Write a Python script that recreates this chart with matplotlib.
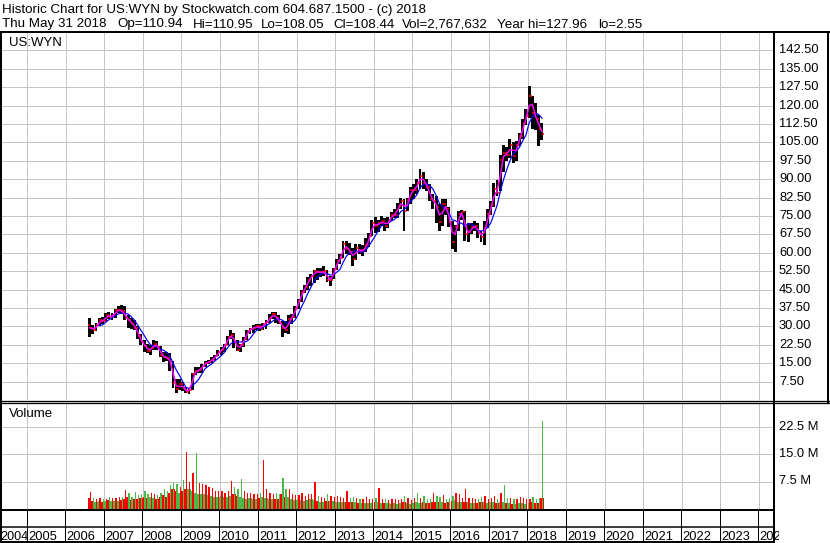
import numpy as np
import pandas as pd
import matplotlib
matplotlib.use("Agg")
import matplotlib.pyplot as plt
from matplotlib.lines import Line2D
import matplotlib.transforms as mtransforms

plt.rcParams['font.family'] = ['Liberation Sans', 'DejaVu Sans']

# ---------------- data (monthly, Aug 2006 .. May 2018) ----------------
first_year, first_month = 2006, 8

closes = [
    29.5, 28.5, 30.5, 32.5, 32.0,
    34.5, 34.0, 34.2, 36.5, 36.5, 36.3, 33.5, 32.5, 31.0, 29.5, 26.0, 23.5,
    22.0, 20.0, 21.0, 23.0, 21.5, 18.5, 17.5, 17.0, 15.5, 7.0, 4.5, 6.5,
    4.8, 3.3, 4.2, 10.5, 12.0, 12.1, 14.0, 15.2, 15.5, 16.5, 18.0, 19.5,
    20.5, 22.5, 25.5, 26.5, 23.5, 20.5, 22.5, 25.0, 28.0, 29.0, 29.5, 30.0,
    29.0, 31.0, 31.8, 33.5, 35.0, 33.5, 31.5, 29.5, 28.5, 33.0, 34.0, 37.5,
    40.5, 44.0, 46.0, 49.0, 50.5, 52.5, 52.0, 52.0, 52.5, 49.0, 49.0, 53.2,
    56.5, 58.0, 63.5, 61.5, 60.5, 57.5, 62.0, 60.5, 61.0, 63.0, 67.0, 72.0,
    71.0, 72.0, 73.0, 71.0, 73.0, 75.5, 75.5, 79.0, 81.0, 77.0, 81.5, 85.5,
    85.5, 88.5, 91.5, 88.5, 87.0, 82.0, 81.0, 78.5, 72.5, 80.0, 78.0, 72.5,
    64.5, 70.5, 76.0, 76.5, 67.5, 68.5, 70.5, 71.0, 68.0, 66.5, 70.0, 76.0,
    79.5, 86.0, 84.5, 98.0, 100.5, 100.0, 104.0, 99.5, 104.0, 107.5, 113.0, 115.8,
    124.0, 117.0, 114.5, 110.5, 108.44,
]
highs = [
    33.5, 30.5, 31.5, 33.5, 34.0,
    35.5, 36.0, 35.5, 37.0, 38.5, 38.8, 38.5, 34.5, 33.5, 32.5, 30.0, 27.0,
    24.5, 23.0, 22.5, 24.5, 24.0, 22.0, 19.5, 19.5, 19.0, 16.0, 8.5, 8.5,
    7.5, 5.5, 5.0, 11.0, 13.5, 13.5, 14.5, 16.0, 16.5, 17.5, 18.5, 20.5,
    21.5, 23.0, 26.0, 28.5, 27.5, 24.5, 23.0, 25.5, 28.5, 29.5, 30.5, 31.0,
    31.0, 31.5, 32.5, 35.0, 36.0, 36.0, 34.5, 32.0, 32.0, 34.5, 35.0, 38.5,
    41.0, 45.0, 47.0, 50.0, 51.5, 53.0, 54.0, 54.0, 54.5, 53.0, 50.5, 54.0,
    57.5, 59.5, 65.0, 65.0, 64.0, 62.0, 63.5, 63.5, 63.0, 66.0, 68.0, 73.5,
    74.5, 73.5, 75.0, 74.0, 74.5, 76.5, 78.0, 80.5, 82.5, 82.0, 82.5, 87.0,
    88.0, 90.0, 94.0, 93.0, 90.0, 88.0, 84.0, 83.0, 80.0, 82.0, 82.0, 78.5,
    73.0, 71.5, 77.0, 77.5, 77.0, 72.0, 72.0, 73.0, 72.0, 69.0, 73.0, 78.0,
    81.0, 88.5, 89.5, 100.0, 104.0, 103.0, 106.5, 105.0, 105.5, 109.0, 114.5, 118.5,
    127.96, 124.0, 121.0, 116.0, 113.0,
]
lows = [
    25.5, 27.0, 28.0, 30.0, 31.0,
    32.0, 33.0, 32.5, 33.5, 35.5, 35.0, 32.5, 29.5, 29.0, 28.5, 25.0, 22.5,
    19.5, 19.0, 18.5, 20.5, 20.5, 17.5, 15.5, 16.0, 12.0, 5.0, 3.0, 4.0,
    3.8, 2.8, 2.55, 4.0, 10.0, 11.2, 11.0, 13.5, 14.5, 15.0, 16.5, 18.0,
    18.5, 19.5, 22.5, 25.0, 21.0, 20.0, 19.5, 21.5, 24.5, 27.0, 27.5, 28.5,
    28.0, 28.5, 29.0, 31.5, 33.0, 31.5, 31.0, 25.5, 27.5, 27.0, 31.0, 33.5,
    37.0, 40.0, 43.5, 45.0, 46.5, 47.5, 49.0, 50.0, 50.5, 48.0, 46.5, 49.5,
    53.0, 55.5, 58.0, 59.5, 59.0, 54.5, 57.0, 59.5, 58.5, 60.5, 62.5, 67.0,
    68.0, 68.5, 71.0, 69.0, 70.0, 73.0, 74.0, 74.0, 78.0, 69.0, 77.0, 80.0,
    82.0, 84.0, 86.0, 86.0, 85.0, 81.0, 78.0, 72.0, 69.0, 71.0, 75.5, 70.5,
    61.5, 60.5, 69.0, 73.5, 65.0, 64.5, 67.5, 69.0, 66.0, 64.5, 63.0, 70.0,
    75.5, 78.5, 83.0, 85.0, 93.0, 97.5, 98.5, 96.5, 97.5, 103.5, 106.5, 112.0,
    115.0, 110.5, 110.0, 103.5, 106.0,
]
# volume in millions: typical daily level and largest spike in each month
vol_base = [
    3.0, 2.2, 2.0, 2.2, 2.0,
    2.2, 2.4, 2.3, 2.2, 2.3, 2.4, 2.8, 3.2, 2.5, 2.6, 2.8, 2.9,
    3.4, 3.0, 3.2, 3.0, 2.8, 3.2, 3.8, 3.4, 4.5, 5.5, 5.0, 4.5,
    5.0, 5.5, 5.5, 5.0, 4.5, 4.0, 4.2, 4.0, 3.8, 3.5, 3.2, 3.4,
    3.5, 3.4, 3.2, 3.5, 4.0, 3.6, 3.2, 3.0, 2.8, 3.0, 2.8, 2.6,
    3.0, 3.4, 3.0, 2.8, 2.6, 2.8, 2.8, 4.0, 3.4, 3.2, 2.6, 2.5,
    2.6, 2.4, 2.3, 2.4, 2.6, 2.4, 2.2, 2.0, 2.0, 2.2, 2.2, 2.1,
    2.0, 2.0, 1.9, 2.0, 1.8, 1.9, 1.8, 1.7, 1.6, 1.7, 1.6, 1.6,
    1.8, 1.9, 1.7, 1.6, 1.6, 1.5, 1.6, 1.5, 1.6, 1.8, 1.6, 1.5,
    1.7, 1.8, 1.7, 1.8, 1.7, 1.6, 1.8, 1.9, 2.0, 2.0, 1.7, 1.8,
    2.2, 2.4, 2.0, 1.9, 2.0, 1.8, 1.7, 1.6, 1.7, 1.8, 2.0, 1.7,
    1.8, 2.0, 1.7, 2.0, 1.8, 1.6, 1.6, 1.5, 1.5, 1.6, 1.6, 1.5,
    1.6, 1.8, 1.6, 1.7, 2.9,
]
vol_peak = [
    4.7, 3.0, 2.8, 3.0, 2.6,
    2.8, 3.2, 2.9, 3.0, 3.2, 3.2, 5.2, 4.5, 3.4, 4.7, 3.8, 4.0,
    4.8, 4.0, 4.3, 4.0, 3.8, 4.5, 5.5, 4.8, 6.6, 7.0, 6.8, 6.0,
    8.0, 15.5, 7.5, 9.8, 15.2, 7.0, 6.8, 6.5, 6.0, 5.8, 5.0, 4.8,
    5.0, 4.5, 5.0, 7.6, 6.0, 5.5, 8.2, 4.8, 4.5, 4.5, 4.2, 4.0,
    4.5, 13.3, 5.5, 4.5, 4.0, 4.5, 4.2, 8.4, 5.5, 5.5, 4.0, 3.8,
    3.8, 4.5, 3.6, 4.0, 4.0, 7.3, 3.5, 3.2, 3.0, 4.0, 3.5, 3.2,
    3.5, 3.2, 3.0, 4.8, 3.0, 3.4, 3.0, 2.8, 2.8, 3.2, 2.8, 2.6,
    3.0, 5.7, 2.8, 2.6, 2.5, 2.6, 2.8, 2.5, 2.8, 3.5, 3.0, 2.5,
    3.0, 4.3, 3.0, 3.5, 2.8, 2.7, 4.3, 3.5, 3.2, 3.8, 2.8, 3.0,
    3.5, 4.5, 4.0, 3.0, 5.5, 3.0, 3.0, 2.6, 2.8, 3.2, 3.5, 2.8,
    3.0, 3.5, 2.8, 4.3, 6.5, 3.0, 3.0, 2.8, 2.6, 3.2, 3.0, 2.8,
    2.8, 3.2, 2.7, 3.0, 24.0,
]
# colour of the notable spikes ('r' down day, 'g' up day)
spike_colors = {(2006, 8): 'r', (2007, 7): 'r', (2008, 10): 'g', (2009, 2): 'r',
                (2009, 4): 'r', (2009, 5): 'g', (2010, 4): 'r', (2010, 7): 'g',
                (2011, 2): 'r', (2011, 8): 'g', (2012, 6): 'r', (2013, 4): 'r',
                (2014, 2): 'r', (2015, 2): 'g', (2015, 7): 'r', (2016, 5): 'r',
                (2017, 5): 'g', (2018, 5): 'g'}

price_ticks = np.arange(7.5, 143, 7.5)
vol_ticks = [7.5, 15.0, 22.5]
years = list(range(2004, 2025))

header1 = "Historic Chart for US:WYN by Stockwatch.com 604.687.1500 - (c) 2018"
header2 = ["Thu May 31 2018", "Op=110.94", "Hi=110.95", "Lo=108.05", "Cl=108.44",
           "Vol=2,767,632", "Year hi=127.96", "lo=2.55"]
header2_px = [2, 117, 193, 261, 333, 402, 497, 598]

# ---------------- derived ----------------
n = len(closes)
ym = [(first_year + (first_month - 1 + i) // 12, (first_month - 1 + i) % 12 + 1) for i in range(n)]
xm = np.array([y + (m - 0.5) / 12 for y, m in ym])
C = np.array(closes); Hh = np.array(highs); Ll = np.array(lows)
O = np.concatenate([[C[0] + 1.0], C[:-1]])
up = C >= O
ma_fast = pd.Series(C).rolling(2, min_periods=1).mean()
ma_slow = pd.Series(C).rolling(5, min_periods=4).mean()

GREEN, RED = '#4db848', '#ff0000'
GRID = '#c4c4c4'

# ---------------- figure ----------------
W, H = 830, 543
fig = plt.figure(figsize=(W / 100, H / 100), dpi=100)
fig.patch.set_facecolor('white')

def rect(x0, y0, x1, y1):
    return [x0 / W, 1 - y1 / H, (x1 - x0) / W, (y1 - y0) / H]

X0, PPY = 27.0, 38.5   # pixel of 2005.0, pixels per year
def px2yr(px):
    return 2005 + (px - X0) / PPY

PX = 0.72  # one pixel in points

def style_axes(a):
    for s in a.spines.values():
        s.set_visible(False)
    a.set_xticks([]); a.set_yticks([])
    a.set_facecolor('white')

def grid_lines(a, xs, ys, color, lw):
    for xv in xs:
        a.axvline(xv, color=color, lw=lw, zorder=0.5)
    for yv in ys:
        a.axhline(yv, color=color, lw=lw, zorder=0.5)

# main price panel
ax = fig.add_axes(rect(2, 32, 774, 400))
style_axes(ax)
ax.set_xlim(px2yr(2), px2yr(774))
ax.set_ylim(0, 150)
grid_lines(ax, years[1:], price_ticks, GRID, PX * 1.0)

mw = 1 / 12
ax.bar(xm, Hh - Ll, bottom=Ll, width=mw * 0.9, color='black', linewidth=0, zorder=2)
ax.hlines(C, xm, xm + mw * 0.5, color=RED, lw=PX * 1.5, zorder=3)
ax.hlines(O, xm - mw * 0.5, xm, color=RED, lw=PX * 1.5, zorder=3)
ax.plot(xm, ma_slow, color='#0000ff', lw=PX * 1.2, zorder=4)
ax.plot(xm, ma_fast, color='#ff00ff', lw=PX * 1.5, zorder=5)

tr = mtransforms.blended_transform_factory(ax.transAxes, ax.transData)
for v in price_ticks:
    ax.text((779 - 2) / 772, v, f"{v:.2f}", transform=tr, ha='left', va='center',
            fontsize=9.3, color='#000000', clip_on=False)
ax.text(9 / W, 1 - 46 / H, "US:WYN", transform=fig.transFigure, fontsize=9.5,
        va='baseline', ha='left')

# volume panel
av = fig.add_axes(rect(2, 403, 774, 509))
style_axes(av)
av.set_xlim(px2yr(2), px2yr(774))
av.set_ylim(0, 106 / (27.5 / 7.5))
grid_lines(av, years[1:], vol_ticks, GRID, PX * 1.0)
base_cols = [GREEN if u else RED for u in up]
peak_cols = [(GREEN if spike_colors[k] == 'g' else RED) if k in spike_colors
             else (RED if u else GREEN) for k, u in zip(ym, up)]
av.bar(xm, vol_base, width=mw, color=base_cols, linewidth=0, zorder=2)
av.bar(xm + mw * 0.25, vol_peak, width=mw * 0.4, color=peak_cols, linewidth=0, zorder=3)
trv = mtransforms.blended_transform_factory(av.transAxes, av.transData)
for v in vol_ticks:
    av.text((779 - 2) / 772, v, f"{v:.1f} M", transform=trv, ha='left', va='center',
            fontsize=9.3, color='#000000', clip_on=False)
av.text(9 / W, 1 - 417 / H, "Volume", transform=fig.transFigure, fontsize=9.5,
        va='baseline', ha='left')

# year label rows
ay = fig.add_axes(rect(2, 509, 779, 542))
style_axes(ay)
ay.set_facecolor('none')
ay.set_xlim(px2yr(2), px2yr(779))
ay.set_ylim(0, 1)
for yv in years[1:]:
    ay.axvline(yv, color='black', lw=PX * 1.0, zorder=0.5)
lab_y = 1 - 539.5 / H
for yv in years:
    if yv == years[0]:
        fig.text(0.3 / W, lab_y, str(yv), ha='left', va='baseline', fontsize=9.1)
    else:
        ay.text(yv + 1 / PPY, (542 - 539.5) / 33, str(yv), ha='left', va='baseline',
                fontsize=9.3, clip_on=True)

# header
fig.text(2 / W, 1 - 13.5 / H, header1, fontsize=9.6, va='baseline', ha='left')
for s, px in zip(header2, header2_px):
    fig.text(px / W, 1 - 27.5 / H, s, fontsize=9.6, va='baseline', ha='left')

# frame lines
def hline(y, x0, x1, w):
    fig.add_artist(Line2D([x0 / W, x1 / W], [1 - y / H, 1 - y / H], transform=fig.transFigure,
                          color='black', lw=PX * w, solid_capstyle='butt'))

def vline(x, y0, y1, w):
    fig.add_artist(Line2D([x / W, x / W], [1 - y0 / H, 1 - y1 / H], transform=fig.transFigure,
                          color='black', lw=PX * w, solid_capstyle='butt'))

hline(32, 0, 830, 2)
hline(400.5, 0, 830, 1.3)
hline(402.8, 0, 830, 1.3)
hline(509.5, 0, 775, 2)
hline(527, 0, 775, 1.5)
hline(541.8, 0, 775, 2)
vline(1, 31, 543, 2)
vline(774, 31, 543, 2)
vline(828, 31, 403, 2)

fig.savefig("out.png", dpi=100, facecolor='white')
